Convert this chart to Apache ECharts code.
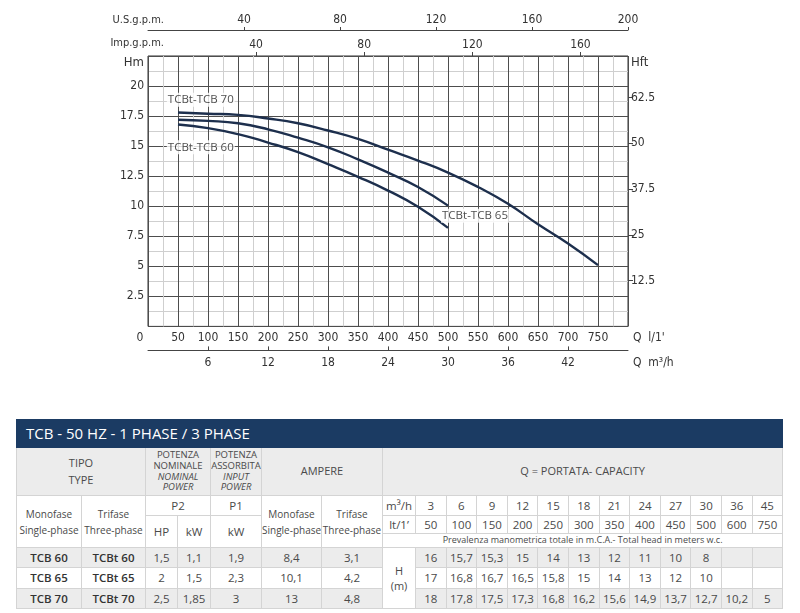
<!DOCTYPE html>
<html>
<head>
<meta charset="utf-8">
<script src="https://cdn.jsdelivr.net/npm/echarts@6/dist/echarts.min.js"></script>
<style>
  body { margin: 0; background: #fff; }
  #chart { position: absolute; left: 0; top: 0; width: 800px; height: 415px; }
  #tbl { position: absolute; left: 16px; top: 419px; width: 766px; border-collapse: collapse; table-layout: fixed;
         font-family: 'Open Sans', sans-serif; color: #4a4a4a; }
  #tbl td { border: 1px solid #d4d4d4; padding: 0; text-align: center; vertical-align: middle;
            line-height: 1.15; overflow: hidden; white-space: nowrap; font-size: 11.5px; }
  #tbl td.g { background: #ececec; }
  #tbl td.title { background: #1b3b63; color: #fff; font-size: 15px; text-align: left; padding-left: 9px; border-color: #1b3b63; }
  #tbl td.sm { font-size: 9.5px; line-height: 1.12; }
  #tbl td.ph { font-size: 10px; line-height: 1.6; }
  #tbl td.b { font-weight: 600; color: #333; }
</style>
</head>
<body>
<div id="chart"></div>
<table id="tbl"></table>
<script>
// curve points (Q in l/min, H in m)
const qTCB70 = [50, 100, 150, 200, 250, 300, 350, 400, 450, 500, 550, 600, 650, 700, 750]
const hTCB70 = [17.8, 17.7, 17.6, 17.3, 16.9, 16.3, 15.6, 14.7, 13.8, 12.8, 11.6, 10.2, 8.5, 6.9, 5.1]
const qTCB65 = [50, 100, 150, 200, 250, 300, 350, 400, 450, 500]
const hTCB65 = [17.2, 17.1, 16.9, 16.4, 15.7, 14.9, 13.9, 12.8, 11.6, 10.05]
const qTCB60 = [50, 100, 150, 200, 250, 300, 350, 400, 450, 500]
const hTCB60 = [16.8, 16.5, 16.0, 15.3, 14.5, 13.5, 12.45, 11.3, 9.95, 8.2]
const curveNames = ['TCBt-TCB 70', 'TCBt-TCB 65', 'TCBt-TCB 60']
// where the curve names sit, in axis units [l/min, m]
const namePos = [[88, 18.85], [545, 9.2], [88, 14.9]]

// axis ranges (the secondary scales are conversions of l/min and m)
const lminMax = 800
const m3hMax = 48
const usGpmMax = 200
const impGpmMax = 177.6
const hmMax = 22.5
const hftMax = 73.82

// table
const tipoMono = ['TCB 60', 'TCB 65', 'TCB 70']
const tipoTri = ['TCBt 60', 'TCBt 65', 'TCBt 70']
const p2Hp = ['1,5', '2', '2,5']
const p2Kw = ['1,1', '1,5', '1,85']
const p1Kw = ['1,9', '2,3', '3']
const ampMono = ['8,4', '10,1', '13']
const ampTri = ['3,1', '4,2', '4,8']
const portataM3h = [3, 6, 9, 12, 15, 18, 21, 24, 27, 30, 36, 45]
const portataLmin = [50, 100, 150, 200, 250, 300, 350, 400, 450, 500, 600, 750]
const hTab60 = ['16', '15,7', '15,3', '15', '14', '13', '12', '11', '10', '8', '', '']
const hTab65 = ['17', '16,8', '16,7', '16,5', '15,8', '15', '14', '13', '12', '10', '', '']
const hTab70 = ['18', '17,8', '17,5', '17,3', '16,8', '16,2', '15,6', '14,9', '13,7', '12,7', '10,2', '5']

const axisFont = "'Liberation Sans Narrow', 'DejaVu Sans Condensed', sans-serif"
const lbl = { color: '#333', fontSize: 12, fontFamily: axisFont }
const gridDark = () => ({ color: '#4d4d4d', width: 1, type: 'solid' })
const gridLight = () => ({ color: '#cfcfcf', width: 1, type: 'solid' })
const axLine = () => ({ color: '#444', width: 1, type: 'solid' })
const noLine = { show: false, onZero: false }

const curves = [
	{ name: curveNames[0], q: qTCB70, h: hTCB70 },
	{ name: curveNames[1], q: qTCB65, h: hTCB65 },
	{ name: curveNames[2], q: qTCB60, h: hTCB60 }
]

// axis titles
const txt = (text, x, y, align, size) => ({
	type: 'text', x: x, y: y, silent: true,
	style: { text: text, align: align, verticalAlign: 'middle', fill: '#333', font: `${size || 12}px ${axisFont}` }
})

var myChart = echarts.init(document.getElementById('chart'))
var option = {
	animation: false,
	grid: [
		{ left: 148, right: 172, top: 56, height: 270.4, show: true, borderColor: '#333', borderWidth: 1 },
		{ left: 148, right: 172, top: 56, height: 270.4 },
		{ left: 148, right: 172, top: 340, height: 10.4 },
		{ left: 148, right: 172, top: 30, height: 10 }
	],
	xAxis: [
		{
			gridIndex: 0, type: 'value', position: 'bottom', min: 0, max: lminMax, interval: 50,
			axisLine: noLine, axisTick: { show: false },
			axisLabel: { ...lbl, margin: 5, showMinLabel: false, showMaxLabel: false },
			splitLine: { show: false }
		},
		{
			gridIndex: 2, type: 'value', position: 'bottom', min: 0, max: m3hMax, interval: 6,
			axisLine: { show: true, onZero: false, lineStyle: axLine() },
			axisTick: { show: true, inside: true, length: 4, lineStyle: axLine() },
			axisLabel: { ...lbl, margin: 6, showMinLabel: false, showMaxLabel: false },
			splitLine: { show: false }
		},
		{
			gridIndex: 0, type: 'value', position: 'top', min: 0, max: impGpmMax, interval: 40,
			axisLine: noLine,
			axisTick: { show: true, length: 4, lineStyle: axLine() },
			axisLabel: { ...lbl, margin: 5, showMinLabel: false, showMaxLabel: false },
			splitLine: { show: false }
		},
		{
			gridIndex: 3, type: 'value', position: 'top', min: 0, max: usGpmMax, interval: 40,
			axisLine: { show: true, onZero: false, lineStyle: axLine() },
			axisTick: { show: true, length: 3, lineStyle: axLine() },
			axisLabel: { ...lbl, margin: 4, showMinLabel: false },
			splitLine: { show: false }
		},
		{
			gridIndex: 1, type: 'value', min: 0, max: lminMax, interval: 50,
			axisLine: noLine, axisTick: { show: false }, axisLabel: { show: false },
			splitLine: { show: true, lineStyle: gridDark() },
			minorTick: { show: false, splitNumber: 2 },
			minorSplitLine: { show: true, lineStyle: gridLight() }
		}
	],
	yAxis: [
		{
			gridIndex: 0, type: 'value', position: 'left', min: 0, max: hmMax, interval: 2.5,
			axisLine: noLine, axisTick: { show: false },
			axisLabel: { ...lbl, margin: 4, showMinLabel: false, showMaxLabel: false },
			splitLine: { show: false }
		},
		{
			gridIndex: 0, type: 'value', position: 'right', min: 0, max: hftMax, interval: 12.5,
			axisLine: noLine,
			axisTick: { show: true, length: 5, lineStyle: axLine() },
			axisLabel: { ...lbl, margin: 3, showMinLabel: false, showMaxLabel: false },
			splitLine: { show: false }
		},
		{
			gridIndex: 1, type: 'value', min: 0, max: hmMax, interval: 2.5,
			axisLine: noLine, axisTick: { show: false }, axisLabel: { show: false },
			splitLine: { show: true, lineStyle: gridDark() },
			minorTick: { show: false, splitNumber: 2 },
			minorSplitLine: { show: true, lineStyle: gridLight() }
		},
		{ gridIndex: 2, type: 'value', show: false, min: 0, max: 1 },
		{ gridIndex: 3, type: 'value', show: false, min: 0, max: 1 }
	],
	graphic: [
		txt('U.S.g.p.m.', 164, 20, 'right', 11),
		txt('Imp.g.p.m.', 164, 43, 'right', 11),
		txt('Hm', 144, 63, 'right', 13),
		txt('Hft', 631, 63, 'left', 13),
		txt('0', 140, 338, 'center'),
		txt("Q  l/1'", 633, 338, 'left'),
		txt('Q  m³/h', 633, 363, 'left')
	],
	series: curves.map(c => ({
		type: 'line', name: c.name, xAxisIndex: 0, yAxisIndex: 0,
		data: c.q.map((q, i) => [q, c.h[i]]),
		smooth: 0.5, symbol: 'none',
		lineStyle: { color: '#1d2f4d', width: 2.4 }
	})).concat(curveNames.map((n, i) => ({
		type: 'scatter', name: n + ' label', xAxisIndex: 0, yAxisIndex: 0, z: 4,
		data: [namePos[i]], symbolSize: 0, silent: true,
		label: {
			show: true, position: 'inside', formatter: n,
			color: '#222', fontFamily: 'Open Sans', fontSize: 11.5,
			backgroundColor: '#fff', padding: [1, 1]
		}
	})))
}
myChart.setOption(option)

// tabella sotto il grafico
const colW = [65, 64, 32, 33, 51, 60, 61, 33].concat(portataM3h.map(() => 30.6))
let html = '<colgroup>' + colW.map(w => `<col style="width:${w}px">`).join('') + '</colgroup>'
html += `<tr style="height:28px"><td class="title" colspan="20">TCB - 50 HZ - 1 PHASE / 3 PHASE</td></tr>`
html += `<tr style="height:48px">
	<td class="g" colspan="2" style="font-size:11px;line-height:1.5">TIPO<br>TYPE</td>
	<td class="g sm" colspan="2">POTENZA<br>NOMINALE<br><i>NOMINAL<br>POWER</i></td>
	<td class="g sm">POTENZA<br>ASSORBITA<br><i>INPUT<br>POWER</i></td>
	<td class="g" colspan="2" style="font-size:11px">AMPERE</td>
	<td class="g" colspan="13" style="font-size:11px">Q = PORTATA- CAPACITY</td></tr>`
html += `<tr style="height:19.5px">
	<td rowspan="3" class="ph">Monofase<br>Single-phase</td>
	<td rowspan="3" class="ph">Trifase<br>Three-phase</td>
	<td colspan="2">P2</td><td>P1</td>
	<td rowspan="3" class="ph">Monofase<br>Single-phase</td>
	<td rowspan="3" class="ph">Trifase<br>Three-phase</td>
	<td>m³/h</td>` + portataM3h.map(v => `<td>${v}</td>`).join('') + '</tr>'
html += `<tr style="height:18.5px"><td rowspan="2">HP</td><td rowspan="2">kW</td><td rowspan="2">kW</td>
	<td>lt/1’</td>` + portataLmin.map(v => `<td>${v}</td>`).join('') + '</tr>'
html += `<tr style="height:14px"><td colspan="13" style="font-size:9px">Prevalenza manometrica totale in m.C.A.- Total head in meters w.c.</td></tr>`
const hTab = [hTab60, hTab65, hTab70]
for (let r = 0; r < 3; r++) {
	const g = r === 1 ? '' : 'g'
	html += `<tr style="height:20.3px">
		<td class="${g} b">${tipoMono[r]}</td><td class="${g} b">${tipoTri[r]}</td>
		<td class="${g}">${p2Hp[r]}</td><td class="${g}">${p2Kw[r]}</td><td class="${g}">${p1Kw[r]}</td>
		<td class="${g}">${ampMono[r]}</td><td class="${g}">${ampTri[r]}</td>` +
		(r === 0 ? '<td rowspan="3" style="font-size:11px;line-height:1.4">H<br>(m)</td>' : '') +
		hTab[r].map(v => `<td class="${g}">${v}</td>`).join('') + '</tr>'
}
document.getElementById('tbl').innerHTML = html
</script>
</body>
</html>
